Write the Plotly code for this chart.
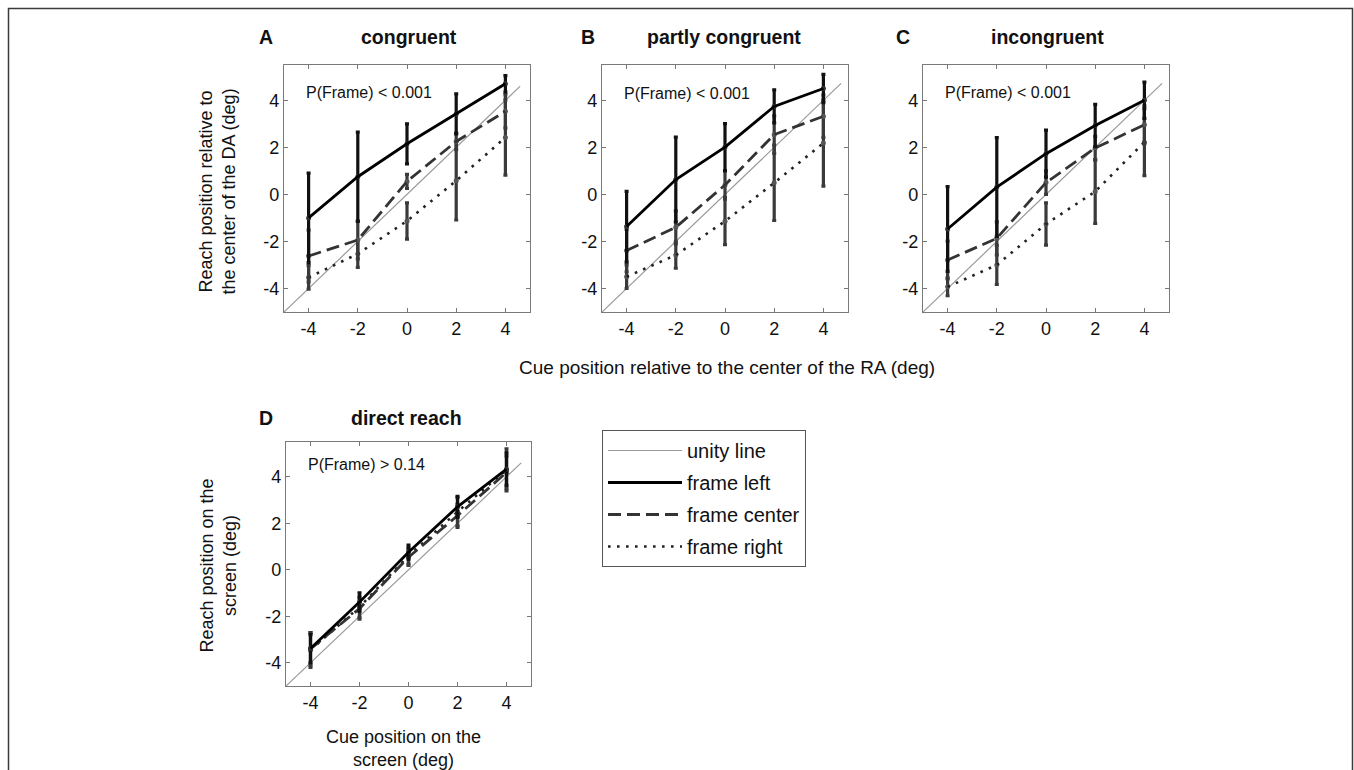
import plotly.graph_objects as go

W, H = 1354, 770
FONT = "Liberation Sans, Arial, sans-serif"

cue = [-4, -2, 0, 2, 4]
tick_vals = [-4, -2, 0, 2, 4]
tick_text = ["-4", "-2", "0", "2", "4"]

panel_letters = ["A", "B", "C", "D"]
panel_titles = ["congruent", "partly congruent", "incongruent", "direct reach"]
p_texts = ["P(Frame) < 0.001", "P(Frame) < 0.001", "P(Frame) < 0.001", "P(Frame) > 0.14"]

# frame left
left_A = [-1.0, 0.75, 2.15, 3.42, 4.7]
left_A_err = [1.9, 1.9, 0.85, 0.85, 0.35]
left_B = [-1.37, 0.63, 2.01, 3.74, 4.5]
left_B_err = [1.5, 1.8, 1.0, 0.7, 0.6]
left_C = [-1.47, 0.31, 1.73, 2.93, 4.0]
left_C_err = [1.8, 2.1, 1.0, 0.9, 0.77]
left_D = [-3.39, -1.39, 0.76, 2.71, 4.33]
left_D_err = [0.6, 0.4, 0.3, 0.45, 0.7]

# frame center
center_A = [-2.62, -1.94, 0.55, 2.25, 3.53]
center_A_err = [1.1, 0.8, 0.3, 0.35, 0.7]
center_B = [-2.39, -1.4, 0.4, 2.54, 3.32]
center_B_err = [0.9, 0.7, 0.6, 0.8, 0.9]
center_C = [-2.79, -1.87, 0.5, 1.97, 2.96]
center_C_err = [0.8, 0.7, 0.5, 0.5, 0.8]
center_D = [-3.4, -1.67, 0.54, 2.33, 4.19]
center_D_err = [0.7, 0.45, 0.35, 0.5, 0.7]

# frame right
right_A = [-3.53, -2.53, -1.13, 0.58, 2.42]
right_A_err = [0.5, 0.57, 0.77, 1.67, 1.6]
right_B = [-3.5, -2.58, -1.14, 0.49, 2.18]
right_B_err = [0.5, 0.56, 1.0, 1.6, 1.83]
right_C = [-3.93, -3.0, -1.26, 0.12, 2.22]
right_C_err = [0.38, 0.83, 0.9, 1.35, 1.42]
right_D = [-3.45, -1.6, 0.6, 2.5, 4.3]
right_D_err = [0.75, 0.45, 0.35, 0.6, 0.9]

unity_start = -5
unity_end = [4.6, 4.72, 4.72, 4.6]

lefts = [(left_A, left_A_err), (left_B, left_B_err), (left_C, left_C_err), (left_D, left_D_err)]
centers = [(center_A, center_A_err), (center_B, center_B_err), (center_C, center_C_err), (center_D, center_D_err)]
rights = [(right_A, right_A_err), (right_B, right_B_err), (right_C, right_C_err), (right_D, right_D_err)]

# layout (pixels): panel boxes (x0, x1, ytop, ybottom)
boxes = [(284, 530, 65, 312), (602, 848, 65, 312), (923, 1169, 65, 312), (286, 531, 442, 686)]
letter_x = [266, 588, 902.5, 266]
title_x = [409, 724, 1047.5, 406]
title_y = [37.5, 37.5, 37.5, 418]
p_x = -4.2
p_y = [4.33, 4.3, 4.33, 4.52]

styles = {
    "right": dict(line=dict(color="#222222", width=2.6, dash="2.6px,6.4px"), ecolor="#3a3a3a", mcolor="#555555"),
    "center": dict(line=dict(color="#333333", width=2.8, dash="13px,6px"), ecolor="#3a3a3a", mcolor="#555555"),
    "left": dict(line=dict(color="#000000", width=2.8), ecolor="#111111", mcolor="#333333"),
}
names = {"right": "frame right", "center": "frame center", "left": "frame left"}
groups = {"left": ("g2", 2), "center": ("g3", 3), "right": ("g4", 4)}

fig = go.Figure()

for i in range(4):
    ax = "" if i == 0 else str(i + 1)
    xr, yr = "x" + ax, "y" + ax
    show = (i == 3)
    fig.add_trace(go.Scatter(
        x=[unity_start, unity_end[i]], y=[unity_start, unity_end[i]], mode="lines",
        line=dict(color="#9a9a9a", width=1.2), name="unity line",
        legendgroup="g1", legendrank=1, showlegend=show, xaxis=xr, yaxis=yr, hoverinfo="skip"))
    for key, data in (("right", rights[i]), ("center", centers[i]), ("left", lefts[i])):
        y, e = data
        st = styles[key]
        g, rank = groups[key]
        fig.add_trace(go.Scatter(
            x=cue, y=y, mode="markers",
            marker=dict(size=5, color=st["mcolor"]),
            error_y=dict(type="data", array=e, color=st["ecolor"], thickness=3.2, width=2),
            showlegend=False, xaxis=xr, yaxis=yr))
        fig.add_trace(go.Scatter(
            x=cue, y=y, mode="lines", line=st["line"],
            name=names[key], legendgroup=g, legendrank=rank, showlegend=show,
            xaxis=xr, yaxis=yr))

layout_axes = {}
annotations = []
for i, (x0, x1, yt, yb) in enumerate(boxes):
    ax = "" if i == 0 else str(i + 1)
    common = dict(
        range=[-5, 5], tickvals=tick_vals, ticktext=tick_text,
        ticks="inside", ticklen=4, tickcolor="#777777", tickwidth=1,
        showline=True, linecolor="#7a7a7a", linewidth=1.2, mirror="allticks",
        showgrid=False, zeroline=False,
        tickfont=dict(family=FONT, size=18, color="#111111"),
    )
    xa = dict(common)
    xa.update(domain=[x0 / W, x1 / W], anchor="y" + ax)
    ya = dict(common)
    ya.update(domain=[1 - yb / H, 1 - yt / H], anchor="x" + ax, range=[-5, 5.5])
    layout_axes["xaxis" + ax] = xa
    layout_axes["yaxis" + ax] = ya

    annotations.append(dict(text="<b>%s</b>" % panel_letters[i], x=letter_x[i] / W, y=1 - title_y[i] / H,
                            xref="paper", yref="paper", showarrow=False, xanchor="center", yanchor="middle",
                            font=dict(family=FONT, size=19.5, color="#111111")))
    annotations.append(dict(text="<b>%s</b>" % panel_titles[i], x=title_x[i] / W, y=1 - title_y[i] / H,
                            xref="paper", yref="paper", showarrow=False, xanchor="center", yanchor="middle",
                            font=dict(family=FONT, size=19.5, color="#111111")))
    annotations.append(dict(text=p_texts[i], x=p_x, y=p_y[i], xref="x" + ax, yref="y" + ax,
                            showarrow=False, xanchor="left", yanchor="middle",
                            font=dict(family=FONT, size=16, color="#111111")))


def label(text, x, y, angle=0, size=18):
    annotations.append(dict(text=text, x=x / W, y=1 - y / H, xref="paper", yref="paper",
                            showarrow=False, textangle=angle, xanchor="center", yanchor="middle",
                            font=dict(family=FONT, size=size, color="#111111")))


label("Reach position relative to<br>the center of the DA (deg)", 217.5, 192, -90)
label("Cue position relative to the center of the RA (deg)", 727, 367, 0, 19)
label("Reach position on the<br>screen (deg)", 217.5, 566, -90)
label("Cue position on the<br>screen (deg)", 403, 748)

shapes = [dict(type="path", xref="paper", yref="paper",
               path="M %f,%f L %f,%f L %f,%f L %f,%f" % (8.5 / W, -0.05, 8.5 / W, 1 - 8.5 / H,
                                                         1352.5 / W, 1 - 8.5 / H, 1352.5 / W, -0.05),
               line=dict(color="#3a3a3a", width=1.5))]

fig.update_layout(
    width=W, height=H,
    margin=dict(l=0, r=0, t=0, b=0),
    paper_bgcolor="white", plot_bgcolor="white",
    showlegend=True,
    legend=dict(x=602 / W, y=1 - 430 / H, xanchor="left", yanchor="top",
                bordercolor="#555555", borderwidth=1, bgcolor="white",
                traceorder="grouped", tracegroupgap=3, itemwidth=74,
                font=dict(family=FONT, size=20, color="#111111")),
    annotations=annotations,
    shapes=shapes,
    **layout_axes,
)

fig.write_html("out.html",
               config={"displayModeBar": False},
               post_script="document.body.style.margin='0';document.documentElement.style.overflow='hidden';document.body.style.overflow='hidden';")
